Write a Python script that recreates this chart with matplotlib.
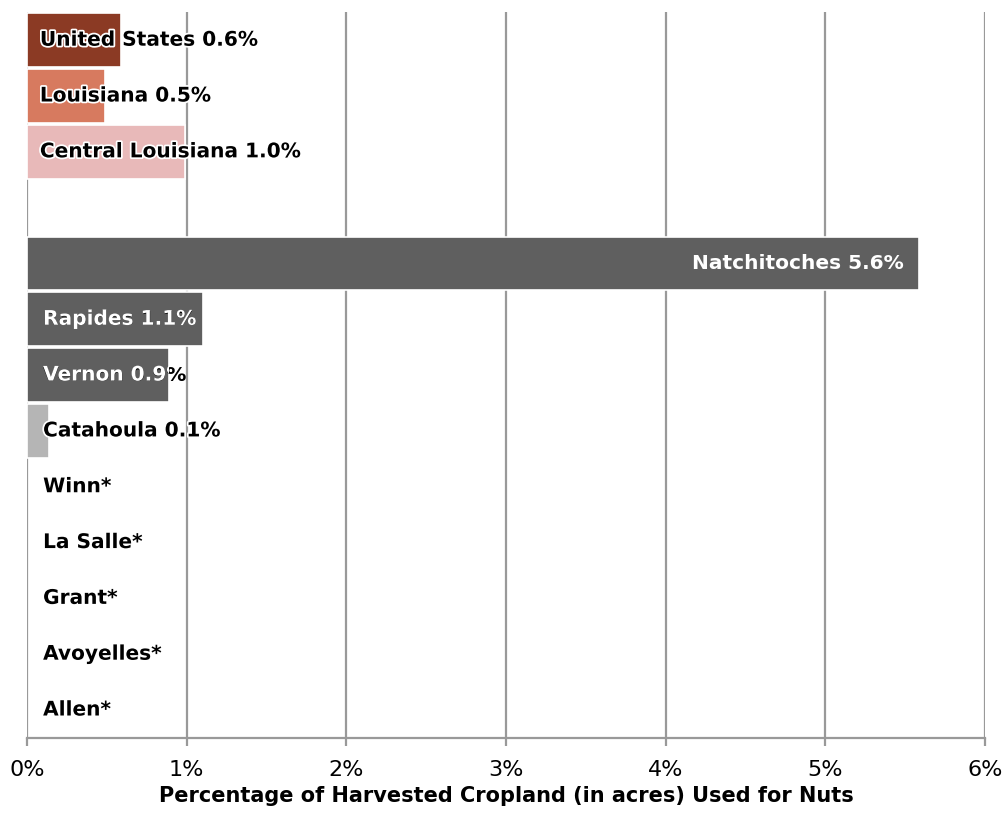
import matplotlib.pyplot as plt
import matplotlib.patheffects as pe
import numpy as np

# rows top to bottom; "" is the blank spacer row
labels = ["United States", "Louisiana", "Central Louisiana", "",
          "Natchitoches", "Rapides", "Vernon", "Catahoula",
          "Winn*", "La Salle*", "Grant*", "Avoyelles*", "Allen*"]
values = [0.59, 0.49, 0.99, 0, 5.59, 1.1, 0.89, 0.14, 0, 0, 0, 0, 0]
shown = ["0.6%", "0.5%", "1.0%", "", "5.6%", "1.1%", "0.9%", "0.1%", "", "", "", "", ""]
colors = ["#8b3a24", "#d77a5f", "#e8b9b9", "white",
          "#5f5f5f", "#5f5f5f", "#5f5f5f", "#b5b5b5",
          "white", "white", "white", "white", "white"]
xticks = [0, 1, 2, 3, 4, 5, 6]

plt.rcParams["font.family"] = ["DejaVu Sans"]

fig = plt.figure(figsize=(10.04, 8.19), dpi=100)
ax = fig.add_axes([0.027, 0.099, 0.954, 0.886])

y = np.arange(len(labels))
edges = ["white" if v > 0 else "none" for v in values]
bars = ax.barh(y, values, height=0.96, color=colors, edgecolor=edges, linewidth=1.2, zorder=2)

ax.set_xlim(0, 6)
ax.set_ylim(len(labels) - 0.5, -0.5)
ax.set_xticks(xticks)
ax.set_xticklabels([f"{t}%" for t in xticks], fontsize=16)
ax.set_yticks([])
ax.xaxis.grid(True, color="#999999", linewidth=1.6, zorder=0)
ax.set_axisbelow(True)
for s in ["top", "right", "left"]:
    ax.spines[s].set_visible(False)
ax.spines["bottom"].set_color("#999999")
ax.spines["bottom"].set_linewidth(1.6)
ax.tick_params(axis="x", length=6, width=1.6, color="#999999", pad=10)

halo = [pe.withStroke(linewidth=2.5, foreground="white")]
for i, (lab, val, s) in enumerate(zip(labels, values, shown)):
    if not lab:
        continue
    text = f"{lab} {s}".strip()
    if lab == "Natchitoches":
        ax.text(val - 0.1, i, text, ha="right", va="center", fontsize=14.5,
                fontweight="bold", color="white", zorder=3)
    elif lab in ("Rapides", "Vernon"):
        # white inside the bar, black where the text runs past it
        ax.text(0.1, i, text, ha="left", va="center", fontsize=14.5,
                fontweight="bold", color="black", zorder=3)
        t = ax.text(0.1, i, text, ha="left", va="center", fontsize=14.5,
                    fontweight="bold", color="white", zorder=4, clip_on=True,
                    path_effects=[pe.Normal()])
        t.set_clip_path(bars[i])
    else:
        ax.text(0.08 if i < 3 else 0.1, i, text, ha="left", va="center", fontsize=14.5,
                fontweight="bold", color="black", path_effects=halo, zorder=3)

ax.set_xlabel("Percentage of Harvested Cropland (in acres) Used for Nuts",
              fontsize=15, fontweight="bold", labelpad=4)

fig.savefig("out.png", dpi=100, facecolor="white")
